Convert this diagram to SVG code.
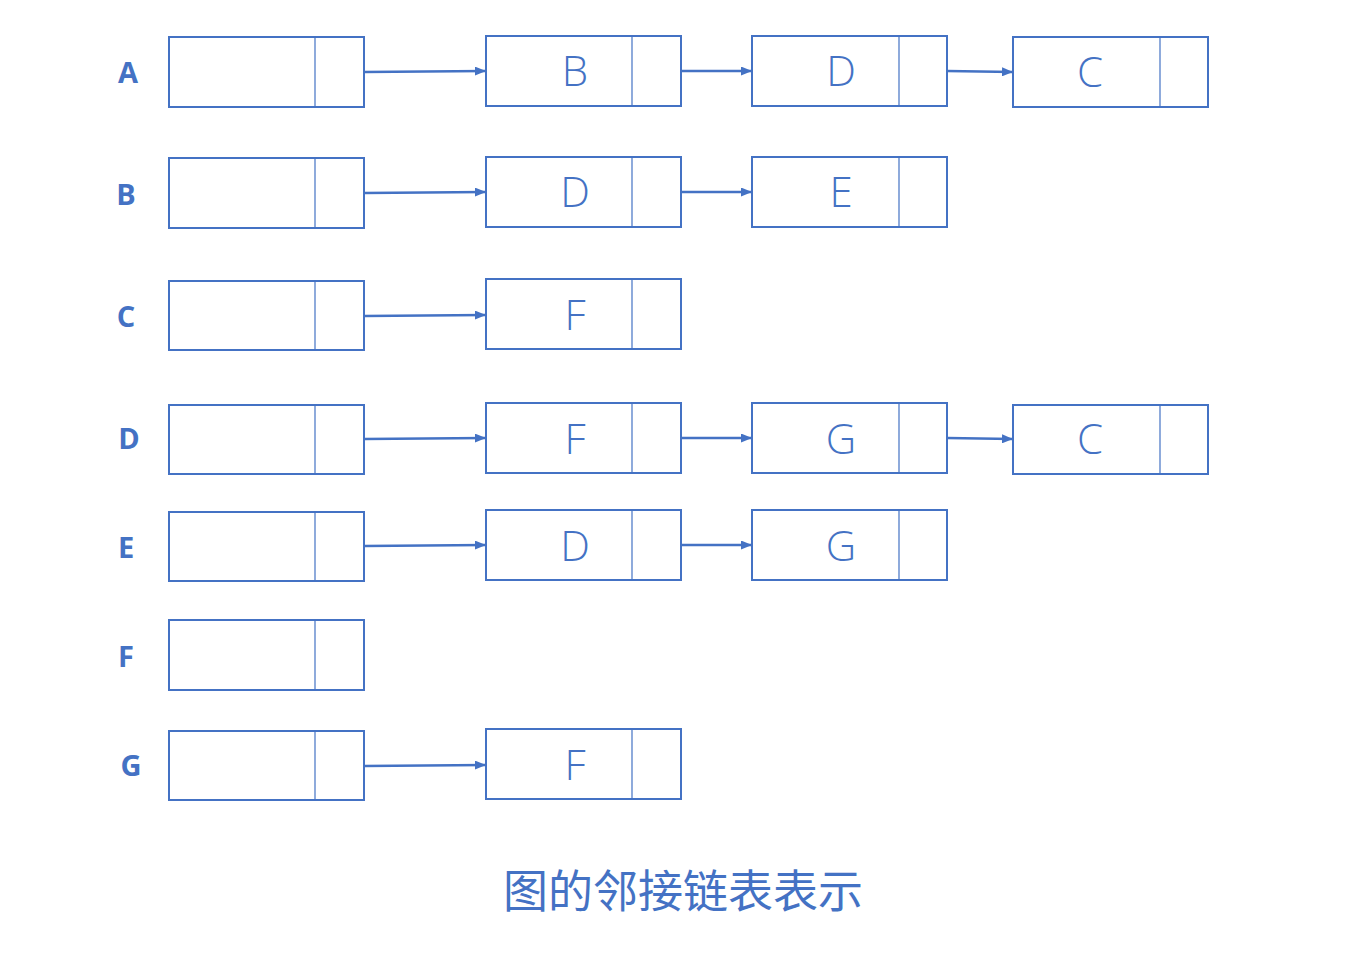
<svg xmlns="http://www.w3.org/2000/svg" width="1348" height="956" viewBox="0 0 1348 956">
<style>
.box{fill:#fff;stroke:#4472C4;stroke-width:2}
.div{stroke:#4472C4;stroke-width:1.2}
.lbl{font-family:"Open Sans","Liberation Sans",sans-serif;font-weight:700;font-size:29px;fill:#4472C4;text-anchor:middle;dominant-baseline:central}
.val{font-family:"Open Sans","Liberation Sans",sans-serif;font-weight:300;font-size:42px;fill:#4472C4;text-anchor:middle;dominant-baseline:central}
.arr{stroke:#4472C4;stroke-width:2.5;fill:none;marker-end:url(#ah)}
.title{font-family:"Noto Sans CJK SC",sans-serif;font-size:45px;fill:#4472C4;text-anchor:middle}
</style>
<defs>
<marker id="ah" markerWidth="11" markerHeight="9" refX="11" refY="4.5" orient="auto" markerUnits="userSpaceOnUse">
<path d="M0,0 L11,4.5 L0,9 Z" fill="#4472C4"/>
</marker>
</defs>
<rect width="1348" height="956" fill="#fff"/>
<g id="connectors">
<path class="arr" d="M364,72 L486,71"/>
<path class="arr" d="M681,71 L752,71"/>
<path class="arr" d="M947,71 L1013,72"/>
<path class="arr" d="M364,193 L486,192"/>
<path class="arr" d="M681,192 L752,192"/>
<path class="arr" d="M364,316 L486,315"/>
<path class="arr" d="M364,439 L486,438"/>
<path class="arr" d="M681,438 L752,438"/>
<path class="arr" d="M947,438 L1013,439"/>
<path class="arr" d="M364,546 L486,545"/>
<path class="arr" d="M681,545 L752,545"/>
<path class="arr" d="M364,766 L486,765"/>
</g>
<g id="head-A"><text class="lbl" x="128" y="71">A</text><rect class="box" x="169" y="37" width="195" height="70"/><line class="div" x1="315" y1="37" x2="315" y2="107"/></g>
<g id="head-B"><text class="lbl" x="126" y="193">B</text><rect class="box" x="169" y="158" width="195" height="70"/><line class="div" x1="315" y1="158" x2="315" y2="228"/></g>
<g id="head-C"><text class="lbl" x="126" y="315">C</text><rect class="box" x="169" y="281" width="195" height="69"/><line class="div" x1="315" y1="281" x2="315" y2="350"/></g>
<g id="head-D"><text class="lbl" x="129" y="437">D</text><rect class="box" x="169" y="405" width="195" height="69"/><line class="div" x1="315" y1="405" x2="315" y2="474"/></g>
<g id="head-E"><text class="lbl" x="126" y="546">E</text><rect class="box" x="169" y="512" width="195" height="69"/><line class="div" x1="315" y1="512" x2="315" y2="581"/></g>
<g id="head-F"><text class="lbl" x="126" y="655">F</text><rect class="box" x="169" y="620" width="195" height="70"/><line class="div" x1="315" y1="620" x2="315" y2="690"/></g>
<g id="head-G"><text class="lbl" x="131" y="764">G</text><rect class="box" x="169" y="731" width="195" height="69"/><line class="div" x1="315" y1="731" x2="315" y2="800"/></g>

<g id="A-B"><rect class="box" x="486" y="36" width="195" height="70"/><line class="div" x1="632" y1="36" x2="632" y2="106"/><text class="val" x="575" y="69">B</text></g>
<g id="A-D"><rect class="box" x="752" y="36" width="195" height="70"/><line class="div" x1="899" y1="36" x2="899" y2="106"/><text class="val" x="841" y="69">D</text></g>
<g id="A-C"><rect class="box" x="1013" y="37" width="195" height="70"/><line class="div" x1="1160" y1="37" x2="1160" y2="107"/><text class="val" x="1090" y="70">C</text></g>

<g id="B-D"><rect class="box" x="486" y="157" width="195" height="70"/><line class="div" x1="632" y1="157" x2="632" y2="227"/><text class="val" x="575" y="190">D</text></g>
<g id="B-E"><rect class="box" x="752" y="157" width="195" height="70"/><line class="div" x1="899" y1="157" x2="899" y2="227"/><text class="val" x="841" y="190">E</text></g>

<g id="C-F"><rect class="box" x="486" y="279" width="195" height="70"/><line class="div" x1="632" y1="279" x2="632" y2="349"/><text class="val" x="575" y="313">F</text></g>

<g id="D-F"><rect class="box" x="486" y="403" width="195" height="70"/><line class="div" x1="632" y1="403" x2="632" y2="473"/><text class="val" x="575" y="437">F</text></g>
<g id="D-G"><rect class="box" x="752" y="403" width="195" height="70"/><line class="div" x1="899" y1="403" x2="899" y2="473"/><text class="val" x="841" y="437">G</text></g>
<g id="D-C"><rect class="box" x="1013" y="405" width="195" height="69"/><line class="div" x1="1160" y1="405" x2="1160" y2="474"/><text class="val" x="1090" y="437">C</text></g>

<g id="E-D"><rect class="box" x="486" y="510" width="195" height="70"/><line class="div" x1="632" y1="510" x2="632" y2="580"/><text class="val" x="575" y="544">D</text></g>
<g id="E-G"><rect class="box" x="752" y="510" width="195" height="70"/><line class="div" x1="899" y1="510" x2="899" y2="580"/><text class="val" x="841" y="544">G</text></g>

<g id="G-F"><rect class="box" x="486" y="729" width="195" height="70"/><line class="div" x1="632" y1="729" x2="632" y2="799"/><text class="val" x="575" y="763">F</text></g>

<text class="title" x="683" y="908">图的邻接链表表示</text>
</svg>
